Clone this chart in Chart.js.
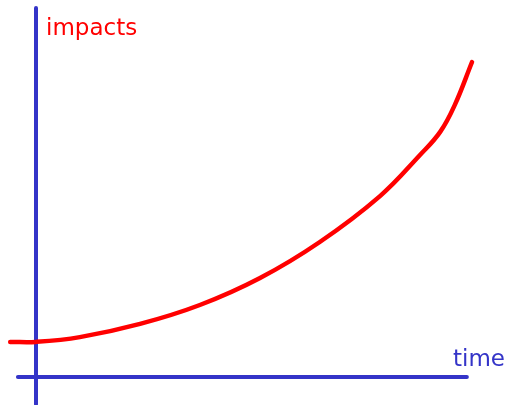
<!DOCTYPE html>
<html>
<head>
<meta charset="utf-8">
<script src="https://cdn.jsdelivr.net/npm/chart.js@4"></script>
<style>
  html, body { margin: 0; padding: 0; background: #fff; }
  #wrap { width: 506px; height: 405px; position: relative; }
</style>
</head>
<body>
<div id="wrap"><canvas id="chart"></canvas></div>
<script>
// curve (time, impacts), arbitrary units
const time = [-0.6, 0, 1.02, 2.42, 3.81, 5.21, 6.6, 8.0, 8.93, 9.4, 9.74, 10.14];
const impacts = [1.17, 1.17, 1.33, 1.77, 2.4, 3.3, 4.5, 6.03, 7.4, 8.17, 9.07, 10.5];

// hand drawn axes
const xAxisTime = [-0.42, 10.02];
const yAxisImpacts = [12.3, -0.9];

const labels = ['impacts', 'time'];

const BLUE = '#3434c8';
const RED = '#ff0000';

const textPlugin = {
  id: 'axisText',
  afterDatasetsDraw(chart) {
    const { ctx, scales: { x, y } } = chart;
    ctx.save();
    ctx.font = '23px "DejaVu Sans"';
    ctx.textBaseline = 'alphabetic';
    // label at top of vertical axis
    ctx.fillStyle = RED;
    ctx.textAlign = 'left';
    ctx.fillText(labels[0], x.getPixelForValue(0) + 10, 35);
    // label at the right end of horizontal axis
    ctx.fillStyle = BLUE;
    ctx.textAlign = 'right';
    ctx.fillText(labels[1], chart.width - 1, y.getPixelForValue(0) - 11);
    ctx.restore();
  }
};

new Chart(document.getElementById('chart'), {
  type: 'scatter',
  data: {
    datasets: [
      {
        data: time.map((t, i) => ({ x: t, y: impacts[i] })),
        showLine: true,
        borderColor: RED,
        borderWidth: 4.5,
        pointRadius: 0,
        tension: 0.4,
        borderCapStyle: 'round',
        borderJoinStyle: 'round',
        order: 0
      },
      {
        data: xAxisTime.map(t => ({ x: t, y: 0 })),
        showLine: true,
        borderColor: BLUE,
        borderWidth: 4,
        pointRadius: 0,
        borderCapStyle: 'round',
        order: 1
      },
      {
        data: yAxisImpacts.map(v => ({ x: 0, y: v })),
        showLine: true,
        borderColor: BLUE,
        borderWidth: 4,
        pointRadius: 0,
        borderCapStyle: 'round',
        order: 1
      }
    ]
  },
  options: {
    responsive: true,
    maintainAspectRatio: false,
    animation: false,
    layout: { padding: 0 },
    plugins: { legend: { display: false }, tooltip: { enabled: false } },
    scales: {
      x: { type: 'linear', display: false, min: -36 / 43, max: 470 / 43 },
      y: { type: 'linear', display: false, min: -28 / 30, max: 377 / 30 }
    }
  },
  plugins: [textPlugin]
});
</script>
</body>
</html>
